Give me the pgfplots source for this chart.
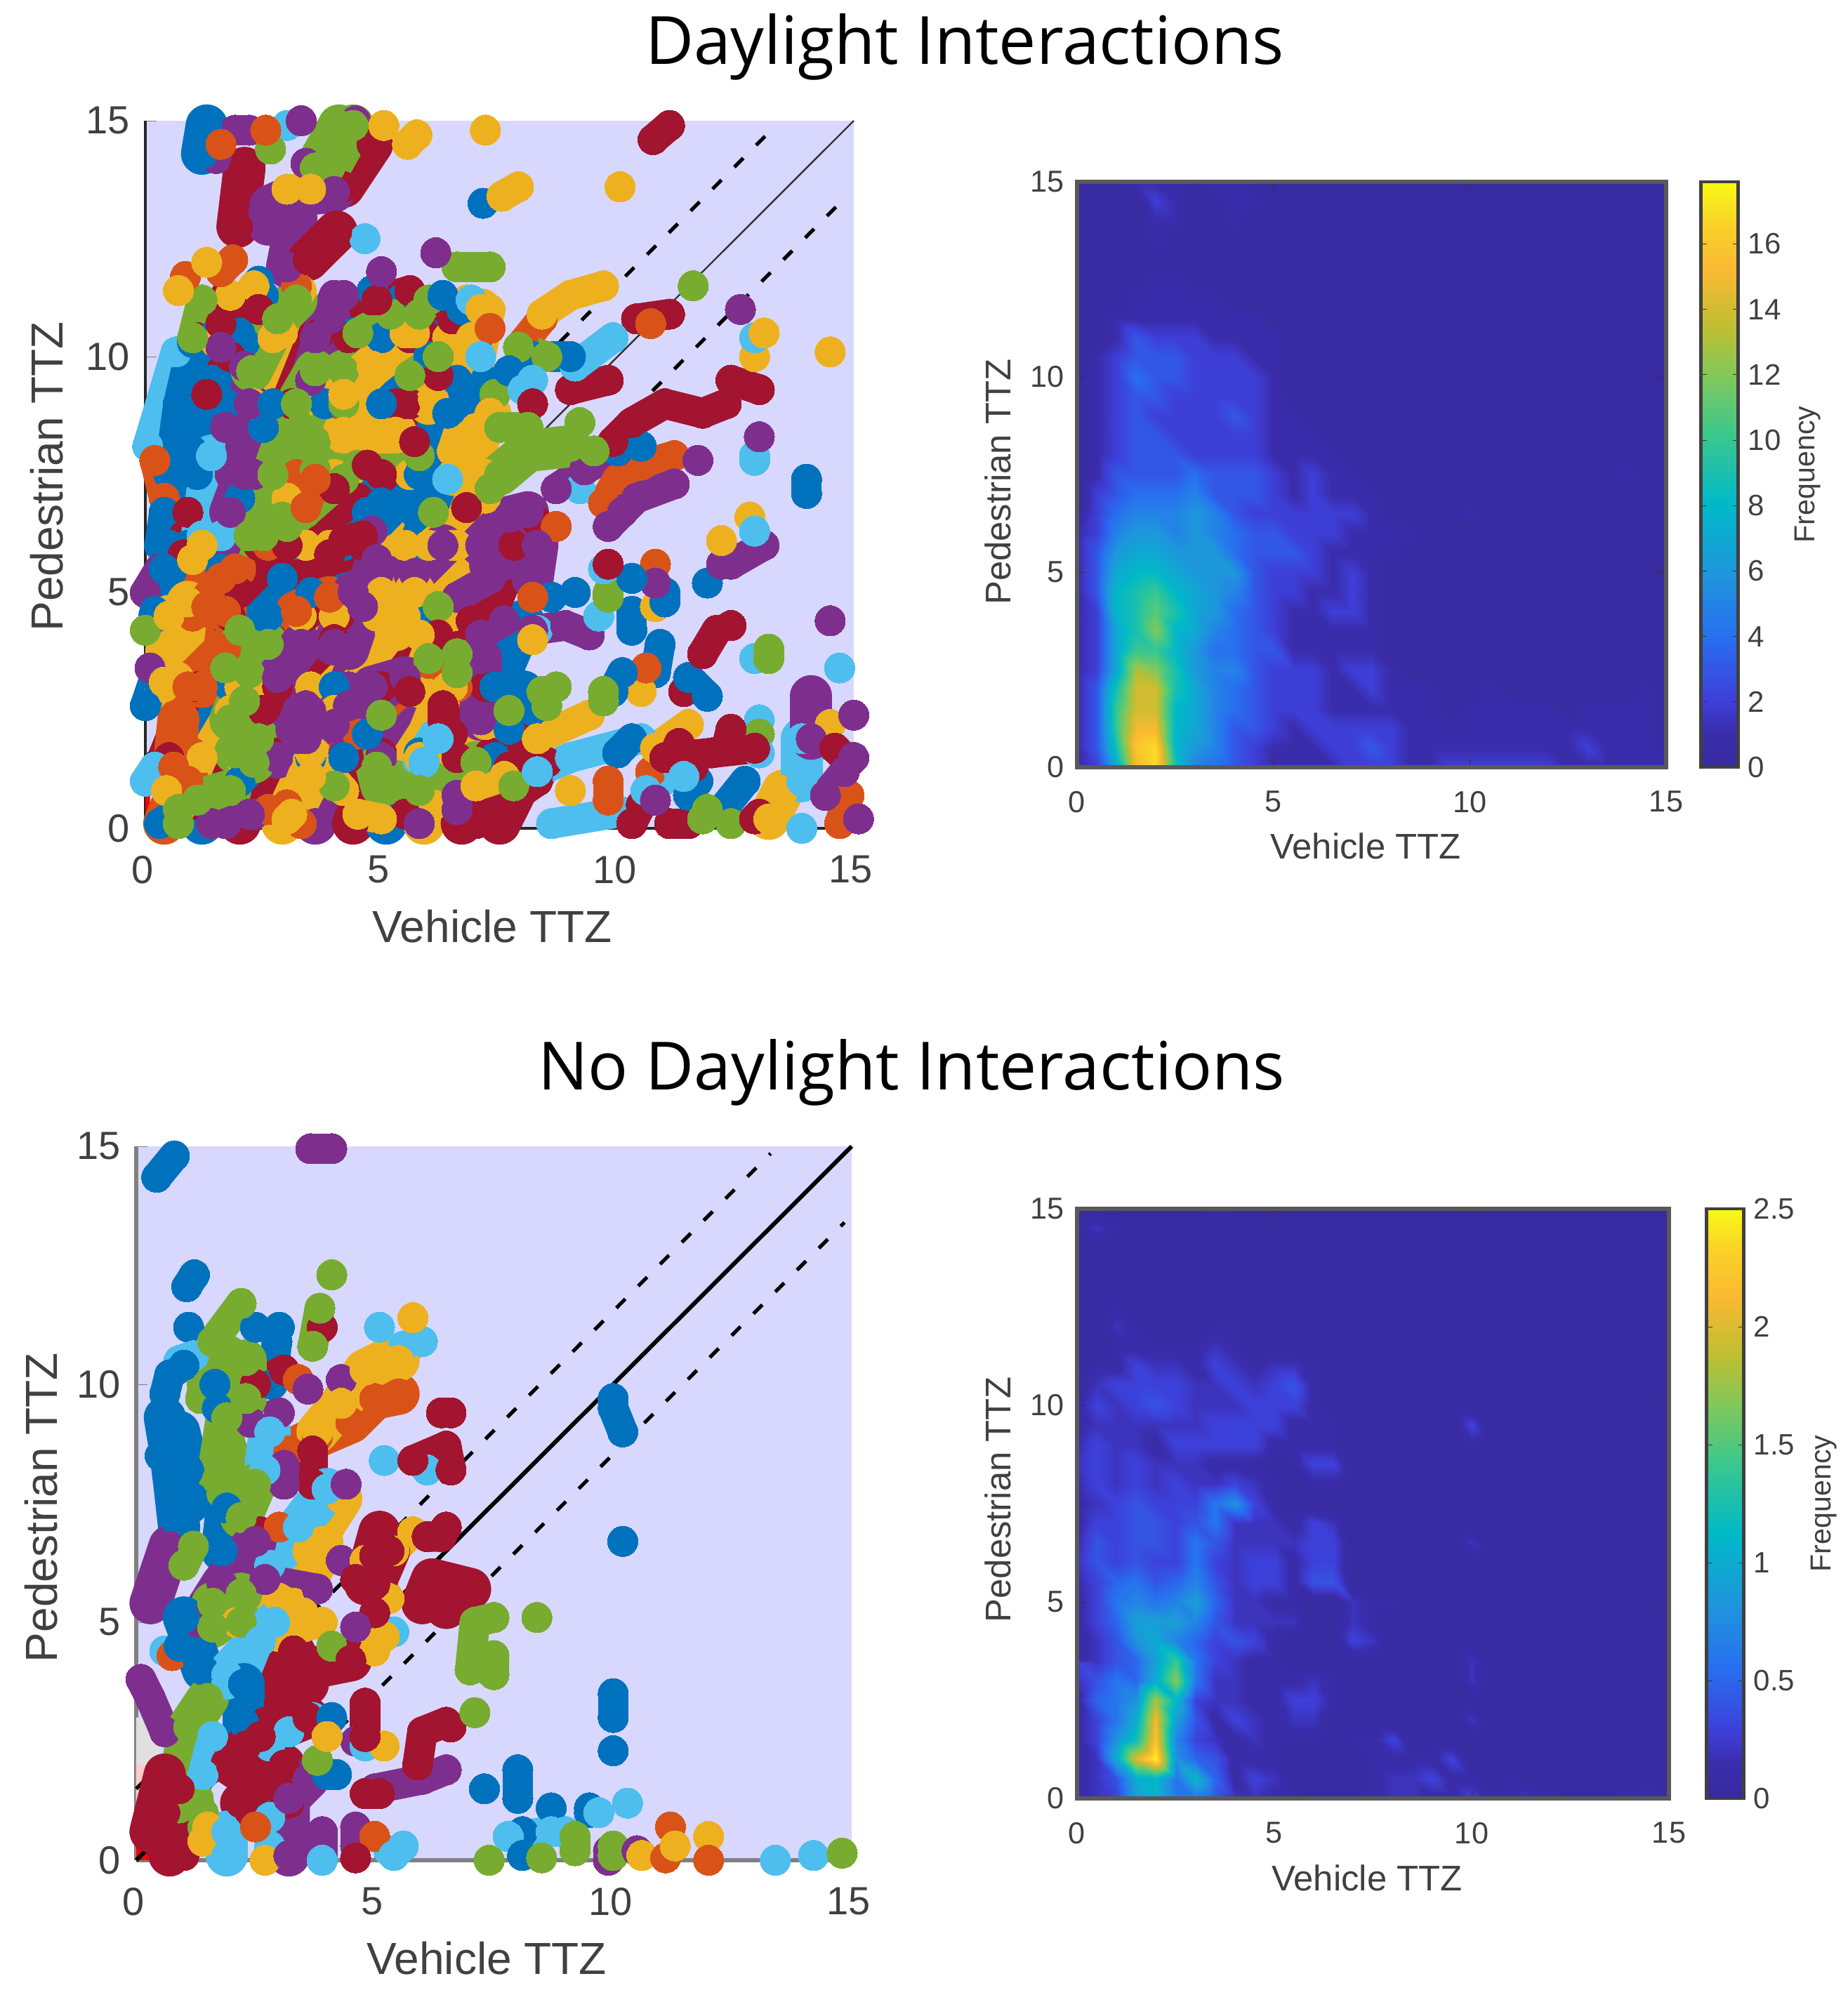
\documentclass[border=0pt]{standalone}
\usepackage{fontspec}
\setmainfont{Liberation Sans}
\newfontfamily\titlefont{Open Sans}
\usepackage{pgfplots}
\pgfplotsset{compat=1.18}
\definecolor{cb}{HTML}{0072BD}
\definecolor{co}{HTML}{D95319}
\definecolor{cy}{HTML}{EDB120}
\definecolor{cp}{HTML}{7E2F8E}
\definecolor{cg}{HTML}{77AC30}
\definecolor{cc}{HTML}{4DBEEE}
\definecolor{cr}{HTML}{A2142F}
\definecolor{lilac}{HTML}{D8D8FF}
\newcommand{\tr}[2]{\addplot[trk,#1] coordinates {#2};}
\newcommand{\fat}[2]{\addplot[trk,#1,line width=15pt] coordinates {#2};}
\pgfplotsset{
  trk/.style={line width=10.8pt,line cap=round,line join=round,mark=*,mark size=5.4pt,
    mark options={solid,line width=0pt}},
  parula/.style={colormap={parula}{rgb255(0pt)=(56,42,160) rgb255(6pt)=(58,45,172) rgb255(11pt)=(62,62,215)
    rgb255(22pt)=(40,110,240) rgb255(33pt)=(30,150,220) rgb255(45pt)=(0,185,200)
    rgb255(57pt)=(60,200,140) rgb255(67pt)=(130,200,90) rgb255(75pt)=(190,190,50)
    rgb255(85pt)=(250,185,50) rgb255(93pt)=(250,210,40) rgb255(100pt)=(248,250,20)}},
  scatterpanel/.style={
    scale only axis, clip=false,
    xmin=0, xmax=15, ymin=0, ymax=15,
    xtick={0,5,10,15}, ytick={0,5,10,15},
    axis lines=left, axis line style={-},
    axis background/.style={fill=lilac},
    tick align=inside, major tick length=4pt,
    /pgf/number format/assume math mode=true,
    ticklabel style={font=\fontsize{14}{14}\selectfont, text=black!75},
    xticklabel style={yshift=-6.3pt, xshift=-1pt},
    yticklabel style={xshift=-2pt},
    label style={font=\fontsize{16}{16}\selectfont, text=black!75, anchor=center},
    xlabel={Vehicle TTZ}, ylabel={Pedestrian TTZ},
  },
  heatpanel/.style={
    parula, scale only axis, axis on top,
    xmin=0, xmax=15, ymin=0, ymax=15,
    xtick={0,5,10,15}, ytick={0,5,10,15},
    tick align=inside, major tick length=3pt,
    axis line style={black!65, line width=1.4pt},
    tick style={black!80},
    /pgf/number format/assume math mode=true,
    ticklabel style={font=\fontsize{10.8}{11}\selectfont, text=black!75},
    xticklabel style={yshift=-5pt},
    yticklabel style={xshift=-1pt},
    label style={font=\fontsize{12.7}{13}\selectfont, text=black!75, anchor=center},
    xlabel={Vehicle TTZ}, ylabel={Pedestrian TTZ},
    colorbar,
  },
  heatbar/.style={
    width=13.25pt, xshift=#1,
    axis line style={black!75, line width=1.2pt},
    tick align=inside, major tick length=2pt,
    /pgf/number format/assume math mode=true,
    ticklabel style={font=\fontsize{10.5}{11}\selectfont, text=black!75},
    ylabel={Frequency},
  },
}
\begin{document}
\begin{tikzpicture}
\path[use as bounding box] (0,0) rectangle (658pt,710.5pt);
\node[font=\titlefont\fontsize{23.7}{24}\selectfont] at (343.5pt,693.8pt) {Daylight Interactions};
\node[font=\titlefont\fontsize{23.7}{24}\selectfont] at (324.5pt,328.5pt) {No Daylight Interactions};

% daylight scatter
\begin{axis}[scatterpanel, at={(51.75pt,415.5pt)}, anchor=south west, width=252.25pt, height=252pt,
  axis line style={black!85, line width=1pt},
  xlabel style={at={(axis description cs:0.49,-0.139)}},
  ylabel style={at={(axis description cs:-0.139,0.497)}}]
\addplot[fill=red, draw=none] coordinates {(0,0)(0.1,0)(0.1,0.7)(0,0.7)} \closedcycle;
\addplot[black!80, line width=0.6pt] coordinates {(0,0)(15,15)};
\addplot[black, line width=1.3pt, dash pattern=on 4.5pt off 6.5pt] coordinates {(0,1.5)(13.3,14.85)};
\addplot[black, line width=1.3pt, dash pattern=on 4.5pt off 6.5pt] coordinates {(1.5,0)(14.85,13.4)};
% cover of the dense area
\fat{co}{(0.4,0.1)(1,1.6)}
\fat{cb}{(1.2,0.1)(1.9,1.6)}
\fat{cr}{(2,0.1)(2.7,1.6)}
\fat{cy}{(2.9,0.1)(3.6,1.6)}
\fat{cp}{(3.6,0.1)(4.2,1.6)}
\fat{cr}{(4.4,0.1)(5,1.6)}
\fat{cb}{(5.1,0.1)(5.8,1.6)}
\fat{cy}{(5.9,0.1)(6.5,1.6)}
\fat{cr}{(6.7,0.1)(7.3,1.6)}
\fat{cr}{(7.5,0.1)(8.1,1.3)}
\fat{cr}{(0.5,1.5)(1.1,3)}
\fat{cb}{(1.2,1.5)(1.8,3)}
\fat{cy}{(2,1.5)(2.6,3)}
\fat{cp}{(2.8,1.5)(3.4,3)}
\fat{cb}{(3.5,1.5)(4.1,3)}
\fat{cr}{(4.3,1.5)(4.9,3)}
\fat{cp}{(5,1.5)(5.6,3)}
\fat{cy}{(5.8,1.5)(6.4,3)}
\fat{cr}{(6.6,1.5)(7.2,3)}
\fat{cb}{(7.4,1.5)(8,2.9)}
\fat{cy}{(0.4,3)(1,4.5)}
\fat{co}{(1.2,3)(1.8,4.5)}
\fat{cb}{(2,3)(2.6,4.5)}
\fat{cr}{(2.8,3)(3.4,4.5)}
\fat{cy}{(3.5,3)(4.1,4.5)}
\fat{cp}{(4.3,3)(4.9,4.5)}
\fat{cr}{(5,3)(5.6,4.5)}
\fat{cy}{(5.8,3)(6.4,4.5)}
\fat{co}{(6.6,3)(7.2,4.5)}
\fat{cb}{(7.4,3)(8,4.4)}
\fat{cb}{(0.3,4.5)(0.9,6)}
\fat{co}{(1,4.5)(1.6,6)}
\fat{cr}{(1.8,4.5)(2.4,6)}
\fat{cb}{(2.5,4.5)(3.1,6)}
\fat{cy}{(3.3,4.5)(3.9,6)}
\fat{cr}{(4.1,4.5)(4.7,6)}
\fat{cy}{(4.9,4.5)(5.5,6)}
\fat{cb}{(5.7,4.5)(6.3,6)}
\fat{cy}{(6.5,4.5)(7.1,6)}
\fat{cr}{(7.2,4.5)(7.8,6)}
\fat{cb}{(0.5,6)(1.1,7.5)}
\fat{cp}{(1.7,6)(2.3,7.5)}
\fat{co}{(2.6,6)(3.2,7.5)}
\fat{cy}{(3.4,6)(4,7.5)}
\fat{cb}{(4.2,6)(4.8,7.5)}
\fat{cy}{(5,6)(5.6,7.5)}
\fat{cb}{(5.8,6)(6.4,7.5)}
\fat{cy}{(6.6,6)(7.2,7.5)}
\fat{cb}{(0.6,7.5)(1.2,9)}
\fat{cp}{(1.8,7.5)(2.3,9)}
\fat{cy}{(2.7,7.5)(3.3,9)}
\fat{co}{(3.5,7.5)(4.1,9)}
\fat{cy}{(4.3,7.5)(4.9,9)}
\fat{cr}{(5,7.5)(5.6,9)}
\fat{cb}{(5.8,7.5)(6.4,9)}
\fat{cy}{(6.5,7.5)(7.1,9)}
\fat{cb}{(1,9)(1.5,10.5)}
\fat{cb}{(1.7,9)(2.1,10.3)}
\fat{cy}{(2.3,9)(2.9,10.5)}
\fat{cr}{(3.1,9)(3.7,10.5)}
\fat{cb}{(3.8,9)(4.4,10.5)}
\fat{cy}{(4.6,9)(5.2,10.5)}
\fat{cr}{(5.3,9)(5.9,10.5)}
\fat{cy}{(6,9)(6.6,10.5)}
\fat{cb}{(6.6,9)(7,10.2)}
\tr{cr}{(1.1,10.4)(1.7,11.3)}
\tr{cb}{(1.9,10.4)(2.5,11.3)}
\tr{cy}{(2.7,10.4)(3.3,11.4)}
\tr{cp}{(3.6,10.4)(4,11.3)}
\tr{cr}{(4.3,10.4)(4.8,11.2)}
\tr{cb}{(5,10.4)(5.4,11.2)}
\tr{cr}{(5.6,10.4)(6.1,11.2)}
\tr{cy}{(6.4,10.4)(6.8,11.2)}
% base layer
\tr{cc}{(0.05,8.1)(0.65,10.1)}
\tr{cb}{(0.5,7.5)(0.7,9)(1,10.3)}
\tr{cb}{(0.7,7.5)(1.1,9)(1.4,9.5)}
\tr{cb}{(1,8)(1.5,9.5)(1.5,10.5)}
\tr{co}{(0.2,7.8)(0.4,7)}
\tr{cb}{(0.3,6)(0.4,6.7)}
\tr{cr}{(0.8,5.8)(0.9,6.7)}
\tr{cp}{(0,5)(0.3,5.5)}
\tr{cb}{(0.2,4.6)(0.4,5.5)}
\tr{cg}{(0,4.2)}
\tr{cb}{(0,2.6)(0.2,3.2)}
\tr{cp}{(0.1,3.4)}
\tr{cc}{(0,1)(0.2,1.3)}
\tr{cb}{(0.3,0.1)(0.6,0.3)}
\tr{cb}{(2,1)(4,3)}
\tr{cy}{(2,3)(4,4.5)(5.5,6)}
\tr{cr}{(1,0.5)(2.5,2.5)(4,4)}
\tr{co}{(3,0.5)(4.5,2)(6,3.5)}
\tr{cy}{(4,2.5)(5.5,4.5)(6.5,6)}
\tr{cb}{(3.5,5)(5,6.5)(6.5,8)}
\tr{cy}{(5,5)(6,6)(7.2,7)}
\tr{cr}{(2,5)(3,6)(4.5,7)}
\tr{cy}{(0.8,0.5)(1.2,1.5)(1.8,2.5)}
\tr{cb}{(1.6,5.5)(2,7)(2.5,8.5)}
\tr{cy}{(3,7)(4.5,9)(5.5,10.5)}
\tr{cr}{(4.5,7)(5.5,9)(6.5,10.8)}
\tr{cb}{(5,9)(6,10)(6.7,11)}
\tr{cy}{(6.5,8)(7,9.5)(7.3,11)}
\tr{co}{(2.8,10.8)(3.2,11.5)}
\tr{cb}{(2,10.5)(2.4,11.6)}
\tr{cr}{(1.3,9.2)(1.8,10)(2.4,11)}
\tr{cy}{(1.5,10.3)(2.3,11.5)}
\tr{cy}{(6.1,0.5)(7.2,2.2)}
\tr{cr}{(7,0.1)(8.3,1)(8.5,1.4)}
\tr{cr}{(7.7,1.3)(7.9,2)}
\tr{cb}{(7.7,2.1)(8.2,2.5)}
\tr{cy}{(5.2,1)(6.5,3)}
\tr{cr}{(5.5,0.3)(6.5,2)}
\tr{cp}{(1.4,0.1)(2.3,0.3)}
\tr{co}{(2.6,0.4)(3.3,0.1)}
\tr{cy}{(3,0.2)(3.5,1.6)(4.2,0.8)}
\tr{cb}{(4.2,1.5)(4.7,2)}
% left side
\fat{cc}{(1.2,6.2)(1.4,7.9)}
\tr{cc}{(1.6,6.2)}
\fat{cy}{(0.4,3.1)(0.5,4.5)}
\fat{cy}{(0.7,3.2)(0.9,4.8)}
\fat{co}{(1.3,4.7)(1.9,5.5)}
\fat{co}{(1.7,4.6)(1.6,5.3)}
\fat{co}{(0.9,3)(1.7,3.8)}
\tr{cy}{(1,5.7)(1.2,6)}
\fat{co}{(0.7,2.3)(0.6,1.3)(0.9,1)}
\tr{cy}{(0.45,0.8)}
\tr{cg}{(0.7,0.1)(0.7,0.4)}
\fat{cg}{(1.1,0.6)(1.8,0.8)}
\tr{cp}{(1.7,0.1)(2.2,0.3)}
\tr{cg}{(1.7,3.4)(2,4.2)}
\fat{cg}{(2.1,2.7)(1.8,2.3)(2.2,3.3)(2.6,3.9)}
\fat{cg}{(1.9,1.6)(2.4,1.9)(2.3,1.4)}
\fat{cp}{(1.8,6.7)(2.1,7.5)(2.2,9)}
\tr{cp}{(1.7,8.5)(2.1,9.8)}
\tr{cr}{(1.6,10.7)(2.4,11)}
\tr{cp}{(1.6,10.2)}
\tr{cy}{(1.8,11.3)}
\tr{cg}{(1,10.4)(1.2,11.2)}
\tr{co}{(0.85,11.7)}
\tr{cy}{(0.7,11.4)}
\tr{co}{(1.6,11.8)(1.85,12.05)}
\tr{cy}{(1.3,12)}
\tr{cb}{(2.7,9)}
\fat{cp}{(3.5,9.5)(3.9,10.8)}
% green main streak
\fat{cg}{(2.2,6.2)(2.7,7.5)(3.2,9)(3.6,9.7)}
\fat{cg}{(2.5,6.2)(3.3,8.5)(4.2,9.7)}
\fat{cg}{(2.9,6.6)(3.6,8.2)(4.2,9)}
\fat{cg}{(2.25,9.7)(2.8,10.8)(3.2,11.2)}
\tr{cg}{(3,6.4)(3.4,6.7)(4.2,7.4)}
\tr{cg}{(3.6,7.6)(4.5,7.7)(5.8,7.9)}
\fat{cy}{(4.2,8.4)(5.3,8.4)}
\tr{cr}{(5.7,8.2)}
\tr{cr}{(4,7.2)(4.7,7.7)}
\tr{co}{(3.4,6.8)(3.6,7.4)}
\fat{cy}{(4.2,9.2)(4.8,9.8)(5.7,10.5)}
\tr{cg}{(4.5,10.5)(5.2,10.9)}
\tr{cb}{(4.8,11.4)}
\tr{cp}{(4.2,11.3)}
\tr{cr}{(4.9,11.2)(5.6,11.4)}
\tr{cp}{(5,11.8)}
\tr{cg}{(5.8,10.9)(6,11.2)}
\tr{cb}{(6.3,11.3)}
\tr{cc}{(6.9,11.2)}
\tr{cg}{(6.6,11.9)(7.3,11.9)}
\fat{cy}{(6.9,10.4)(7.1,11)}
\fat{cy}{(6.1,9.1)(6.7,10)}
\tr{cb}{(6.4,8.8)(6.8,9.1)}
\tr{cb}{(6.6,9.5)(7.2,9.5)}
\tr{cg}{(7.4,9.2)}
\fat{cy}{(6.9,7.6)(7.1,8.4)(7.3,8.8)}
\tr{cr}{(6.2,9.6)}
\tr{co}{(7.3,10.6)}
\tr{cc}{(7.1,10)}
\tr{cg}{(5.6,9.6)(6.2,10)}
\tr{cb}{(4.7,6.7)(5,6.9)}
\tr{cb}{(5.7,6.7)}
\tr{cg}{(6.1,6.7)}
\tr{cr}{(6.8,6.8)}
\tr{cc}{(6.4,7.4)}
\tr{cp}{(4.8,6.3)}
\tr{cr}{(4.2,6.1)(4.6,6.2)}
\fat{cr}{(3,5.4)(3.9,5.8)(4.6,6)}
\tr{cb}{(2.9,5.3)}
% right of the main mass
\fat{cp}{(5.7,5.4)(6.3,6)}
\tr{cp}{(6.6,4.9)(7.3,5.3)}
\fat{co}{(3.2,4.6)(3.9,4.9)}
\fat{cp}{(4.3,3.8)(4.6,4.7)(4.9,5.7)}
\fat{cp}{(4,3.9)(4.4,5)}
\fat{cy}{(5.3,4.2)(5.7,5)}
\tr{cg}{(6.2,4.7)}
\tr{cr}{(6.2,4.1)(6.9,4.4)}
\tr{cp}{(7.1,4.1)(7.6,4.4)}
\tr{cy}{(5.8,4.1)}
\fat{cp}{(7.1,2.3)(7.1,3.6)}
\tr{cg}{(6,3.6)(6.6,3.7)}
\tr{cg}{(6.6,3.3)}
\fat{cp}{(2.8,3.2)(3.3,3.9)}
\fat{cp}{(3.5,2.5)(3.2,2.1)(3.4,2.6)}
\tr{cp}{(4,2.2)(3.4,1.9)(3.2,1.9)}
\fat{cp}{(4.8,3)(5.5,3.2)(4.3,2.6)}
\tr{cr}{(5.6,2.9)}
\tr{cr}{(6.3,2.6)(6.3,2.3)}
\tr{cg}{(5,2.4)}
\fat{cg}{(4.9,1.3)(5,0.9)(5.3,1)}
\fat{cc}{(5.9,1.4)(6.2,1.9)}
\tr{cg}{(4,0.9)}
\fat{cy}{(3.1,0.3)(3.5,1.1)}
\tr{cy}{(4.5,0.3)(5,0.2)}
\fat{cg}{(5.8,0.8)(7,1.4)}
\tr{cp}{(6.6,0.4)(6.6,0.7)}
\tr{cy}{(7,0.9)(7.6,1.1)}
\tr{cp}{(5.8,0.1)}
\tr{cg}{(7.8,0.9)}
% lower right
\tr{cc}{(8.6,0.1)(10.1,0.35)}
\tr{cy}{(8.3,1.9)(9.4,2.4)}
\tr{cc}{(8.3,1.2)(9,1.5)(10.5,1.9)}
\tr{cb}{(10,1.6)(10.3,1.9)}
\tr{co}{(9.8,1)(9.8,0.6)}
\tr{cy}{(9,0.8)}
\tr{cr}{(10.3,0.1)(10.5,0.5)}
\tr{co}{(10.7,1.2)}
\tr{cr}{(11.1,0.1)(11.5,0.1)}
\tr{cc}{(10.6,0.8)(11.3,1.2)}
\tr{cp}{(10.8,0.6)}
\tr{cb}{(11.5,0.7)(11.7,1)}
\tr{cb}{(12.3,0.5)(12.7,1)}
\tr{cg}{(11.8,0.2)(11.9,0.4)}
\tr{cg}{(12.4,0.1)}
\tr{cr}{(12.9,0.2)(13,0.3)}
\fat{cy}{(13.2,0.2)(13.5,0.8)}
\tr{cc}{(13.9,0)}
\fat{cc}{(13.9,1)(13.9,1.9)}
\tr{cy}{(14.5,2.2)}
\fat{cp}{(14.1,1.9)(14.1,2.8)}
\tr{cr}{(14.6,1.7)(14.9,1.4)}
\tr{cp}{(15,2.4)}
\tr{cp}{(15,1.5)}
\tr{co}{(14.8,0.3)(14.7,0.1)(14.9,0.7)}
\tr{cp}{(14.4,0.7)(14.8,1.2)}
\tr{cp}{(15.1,0.2)}
\tr{cc}{(14.7,3.4)}
\tr{cc}{(13,2.3)}
\tr{cg}{(13,2)}
\tr{cc}{(13,1.6)}
\tr{cy}{(10.8,1.7)(11.5,2.2)}
\tr{cr}{(11,1.5)(12,1.6)(12.9,1.7)}
\tr{cr}{(11.3,1.8)(11.6,1.3)}
\tr{cr}{(12.3,1.7)(12.4,2.1)}
\tr{cc}{(11.4,1.1)}
\tr{cr}{(11.4,2.9)}
\tr{cb}{(11.5,3.2)(11.9,2.8)}
\tr{cb}{(10.8,3.3)(10.9,3.9)}
\tr{cy}{(10.5,2.9)}
\tr{co}{(10.6,3.4)}
\tr{cb}{(9.9,2.9)(10.1,3.3)}
\tr{cg}{(9.7,2.7)(9.7,2.9)}
\tr{cr}{(11.8,3.7)(12.1,4.2)}
\tr{cr}{(12.4,4.3)}
\tr{cc}{(12.9,3.6)}
\tr{cg}{(13.2,3.6)(13.2,3.8)}
\tr{cb}{(10.3,4.2)(10.3,4.6)}
\tr{cp}{(14.5,4.4)}
\tr{cc}{(8.3,4.2)}
\tr{cp}{(8.2,4.2)(8.9,4.3)(9.4,4.1)}
\tr{cy}{(10.8,4.7)}
\tr{cb}{(11,4.8)(11,5)}
\tr{co}{(10.8,5.6)}
\tr{cp}{(10.8,5.2)}
\tr{cb}{(11.9,5.2)}
\tr{cp}{(12.2,5.6)}
\tr{cp}{(12.4,5.6)(13.1,6)}
\tr{cy}{(12.2,6.1)}
\tr{cy}{(12.8,6.6)}
\tr{cc}{(12.9,6.3)}
\tr{cc}{(9.6,4.5)}
\tr{cg}{(9.8,4.9)(9.8,5)}
\tr{cc}{(9.7,5.5)}
\tr{cb}{(10.3,5.3)}
\tr{cb}{(9.1,5)}
\tr{cr}{(9.8,5.6)}
\tr{cc}{(9.2,7.2)}
\tr{cp}{(8.7,7.2)(9.3,7.6)(9.8,7.9)}
\tr{co}{(9.7,6.9)(10,7.4)(10.5,7.7)(11.2,7.9)}
\tr{cp}{(9.8,6.4)(10.1,6.7)(10.4,7)(11.2,7.3)}
\tr{cb}{(10,8)(10.5,8.1)}
\tr{cr}{(9.9,8.2)(10.3,8.6)(11,9)(11.8,8.8)(12.3,9)}
\tr{cp}{(11.7,7.8)}
\tr{cc}{(12.9,7.8)(12.9,7.9)}
\tr{cp}{(13,8.3)}
\tr{cr}{(12.4,9.5)(13,9.3)}
\tr{cy}{(12.9,10)}
\tr{cc}{(12.9,10.4)}
\tr{cy}{(13.1,10.5)}
\tr{cp}{(12.6,11)}
\tr{cy}{(14.5,10.1)}
\tr{cb}{(14,7.4)(14,7.1)}
\tr{cg}{(11.6,11.5)}
\tr{cr}{(10.4,10.8)(11.1,10.9)}
\tr{co}{(10.7,10.7)}
\tr{cr}{(9,9.3)(9.8,9.5)}
\tr{cc}{(9.1,9.8)(9.9,10.4)}
\tr{cg}{(9.2,8.6)}
\tr{cg}{(9.5,8)}
\tr{co}{(8,10.3)(8.4,10.8)}
\tr{cy}{(8.4,10.9)(9,11.3)(9.7,11.5)}
\tr{cb}{(8.2,10)(9,10)}
\tr{cg}{(7.9,10.2)(8.5,10)}
\tr{cb}{(7.7,9.7)}
\tr{cc}{(8,9.3)(8.2,9.5)}
\tr{cr}{(8.2,9)}
\tr{cg}{(7.5,8.5)(8.1,8.5)}
\fat{cg}{(7.5,7.5)(8.1,8)(9,8.1)}
\tr{cg}{(7.3,7.2)(7.8,7.7)}
\tr{cr}{(8.3,6.5)}
\tr{co}{(8.7,6.4)}
\fat{cp}{(7.1,6)(7.7,6.6)(8.1,6.7)}
\fat{cp}{(7.3,5.6)(8.3,6)(8.2,5.3)}
\tr{cb}{(8.6,4.9)}
\tr{co}{(8.2,4.9)}
\tr{cy}{(8.2,4)}
\tr{cg}{(8.5,2.6)(7.7,2.5)(8.4,2.9)}
\tr{cg}{(8.7,3)}
% top
\tr{cp}{(1.9,14.8)(2.2,14.8)}
\tr{cc}{(3,14.9)}
\tr{cp}{(1.5,14.2)}
\fat{cb}{(1.2,14.3)(1.3,14.9)}
\tr{co}{(1.6,14.5)}
\tr{cg}{(2.65,14.4)}
\tr{co}{(2.55,14.8)}
\tr{cp}{(3.3,15)}
\tr{cp}{(4.45,15)}
\tr{cp}{(3.4,14.1)}
\fat{cr}{(4.8,14.5)(4.2,13.6)}
\fat{cg}{(3.6,14)(4.1,14.9)}
\fat{cg}{(3.9,14)(4.4,14.9)}
\tr{cy}{(5.05,14.9)}
\tr{cy}{(5.55,14.5)(5.75,14.7)}
\tr{cy}{(7.2,14.8)}
\tr{cr}{(10.75,14.6)(11.1,14.9)}
\tr{cb}{(7.15,13.25)}
\tr{cy}{(7.55,13.4)(7.9,13.6)}
\tr{cy}{(10.05,13.6)}
\fat{cr}{(1.95,12.75)(2.1,14)}
\fat{cp}{(2.6,12.8)(2.65,13.2)(3.1,13.4)(4,13.5)}
\tr{cy}{(3,13.55)(3.5,13.55)}
\fat{cp}{(3,11.9)(3.2,12.9)}
\tr{cc}{(4.65,12.5)}
\fat{cr}{(3.45,12.05)(4.05,12.65)}
\tr{cp}{(6.15,12.2)}
\end{axis}

% daylight density
\begin{axis}[heatpanel, at={(383.5pt,437.25pt)}, anchor=south west, width=209.75pt, height=208.5pt,
  point meta min=0, point meta max=17.9,
  xlabel style={at={(axis description cs:0.49,-0.135)}},
  ylabel style={at={(axis description cs:-0.134,0.487)}},
  colorbar style={heatbar=-5.5pt, ytick={0,2,...,16},
    ylabel style={font=\fontsize{10.3}{11}\selectfont, text=black!75, anchor=center,
      at={(axis description cs:2.87,0.5)}}}]
\addplot[surf, shader=interp, mesh/cols=31, mesh/check=false, point meta=explicit]
 table[row sep=\\, meta=v, x expr={mod(\coordindex,31)*0.5}, y expr={floor(\coordindex/31)*0.5}] {
v\\
1\\2\\7\\15\\17\\9\\5\\4\\3\\2\\1\\1\\1\\1\\2\\2\\2\\1\\1\\2\\2\\2\\2\\2\\2\\1\\1\\1\\1\\1\\1\\
1\\3\\9\\16\\17\\8\\6\\5\\3\\2\\1\\1\\1\\2\\2\\3\\2\\1\\1\\1\\1\\1\\1\\1\\1\\1\\2\\1\\1\\1\\0\\
1\\3\\10\\15\\15\\8\\7\\5\\3\\3\\2\\1\\2\\2\\2\\2\\2\\1\\1\\1\\1\\1\\1\\1\\1\\1\\1\\1\\1\\1\\0\\
1\\3\\10\\14\\14\\8\\7\\5\\4\\3\\2\\2\\2\\1\\1\\1\\1\\1\\1\\0\\1\\1\\1\\1\\1\\0\\1\\1\\1\\1\\0\\
1\\3\\9\\14\\14\\9\\7\\5\\4\\3\\2\\2\\2\\1\\1\\2\\1\\1\\1\\0\\0\\1\\0\\0\\0\\0\\0\\0\\0\\1\\0\\
1\\2\\7\\13\\12\\9\\6\\5\\5\\3\\2\\2\\2\\1\\2\\2\\1\\0\\0\\0\\0\\0\\0\\0\\0\\0\\0\\0\\0\\0\\0\\
1\\2\\7\\10\\10\\8\\6\\4\\4\\3\\3\\1\\1\\1\\1\\1\\0\\0\\0\\0\\0\\0\\0\\0\\0\\0\\0\\0\\0\\0\\0\\
1\\2\\7\\9\\12\\8\\7\\5\\4\\3\\2\\1\\1\\1\\1\\1\\0\\0\\0\\0\\0\\0\\0\\0\\0\\0\\0\\0\\0\\0\\0\\
1\\2\\8\\9\\11\\9\\7\\6\\4\\3\\2\\1\\1\\2\\2\\1\\0\\0\\0\\0\\0\\0\\0\\0\\0\\0\\0\\0\\0\\0\\0\\
1\\3\\8\\9\\10\\8\\7\\6\\5\\3\\2\\2\\1\\1\\2\\1\\0\\0\\0\\0\\0\\0\\0\\0\\0\\0\\0\\0\\0\\0\\0\\
1\\3\\7\\8\\8\\7\\6\\6\\6\\3\\2\\2\\2\\1\\2\\1\\0\\0\\0\\0\\0\\0\\0\\0\\0\\0\\0\\0\\0\\0\\0\\
1\\3\\6\\7\\7\\6\\6\\6\\4\\3\\3\\3\\2\\1\\1\\1\\1\\0\\0\\0\\0\\0\\0\\0\\0\\0\\0\\0\\0\\0\\0\\
1\\2\\5\\6\\6\\5\\6\\5\\4\\3\\3\\2\\2\\2\\1\\1\\1\\1\\0\\0\\0\\0\\0\\0\\0\\0\\0\\0\\0\\0\\0\\
1\\2\\4\\5\\5\\5\\6\\5\\3\\2\\2\\2\\2\\2\\2\\1\\0\\0\\0\\0\\1\\0\\0\\0\\0\\0\\0\\0\\0\\0\\0\\
0\\2\\3\\4\\4\\4\\5\\3\\3\\3\\2\\1\\2\\1\\1\\1\\0\\0\\0\\0\\0\\0\\0\\0\\0\\0\\0\\0\\0\\0\\0\\
0\\1\\3\\3\\3\\3\\4\\3\\3\\3\\2\\1\\2\\1\\1\\0\\0\\0\\0\\0\\0\\0\\0\\0\\0\\0\\0\\0\\1\\0\\0\\
0\\1\\2\\3\\3\\3\\2\\2\\2\\2\\1\\1\\1\\1\\0\\0\\0\\0\\0\\0\\0\\0\\0\\0\\0\\0\\0\\0\\0\\0\\0\\
0\\1\\2\\3\\3\\2\\2\\2\\2\\2\\1\\1\\1\\0\\0\\0\\0\\0\\0\\0\\0\\0\\0\\0\\0\\0\\0\\0\\0\\0\\0\\
0\\1\\2\\3\\2\\2\\2\\2\\3\\2\\1\\1\\0\\0\\0\\0\\0\\0\\0\\0\\0\\0\\0\\0\\0\\0\\0\\0\\0\\0\\0\\
0\\1\\2\\3\\3\\2\\2\\2\\2\\2\\1\\0\\0\\0\\0\\0\\0\\0\\0\\0\\0\\0\\0\\0\\0\\0\\0\\0\\0\\0\\0\\
0\\1\\2\\4\\3\\3\\2\\2\\2\\2\\1\\0\\0\\0\\0\\0\\0\\0\\0\\0\\0\\0\\0\\0\\0\\0\\0\\0\\0\\0\\0\\
0\\1\\2\\3\\3\\3\\2\\2\\2\\1\\1\\0\\0\\0\\0\\0\\0\\0\\0\\0\\0\\0\\0\\0\\0\\0\\0\\0\\0\\0\\0\\
0\\0\\1\\3\\2\\2\\2\\1\\1\\1\\1\\0\\0\\0\\0\\0\\0\\0\\0\\0\\0\\0\\0\\0\\0\\0\\0\\0\\0\\0\\0\\
0\\0\\1\\1\\1\\1\\1\\1\\1\\1\\0\\0\\0\\0\\0\\0\\0\\0\\0\\0\\0\\0\\0\\0\\0\\0\\0\\0\\0\\0\\0\\
0\\0\\0\\1\\1\\1\\1\\1\\0\\0\\0\\0\\0\\0\\0\\0\\0\\0\\0\\0\\0\\0\\0\\0\\0\\0\\0\\0\\0\\0\\0\\
0\\0\\0\\0\\1\\1\\0\\0\\0\\0\\0\\0\\0\\0\\0\\0\\0\\0\\0\\0\\0\\0\\0\\0\\0\\0\\0\\0\\0\\0\\0\\
0\\0\\0\\0\\0\\0\\0\\0\\0\\0\\0\\0\\0\\0\\0\\0\\0\\0\\0\\0\\0\\0\\0\\0\\0\\0\\0\\0\\0\\0\\0\\
0\\0\\0\\0\\1\\0\\0\\0\\0\\0\\0\\0\\0\\0\\0\\0\\0\\0\\0\\0\\0\\0\\0\\0\\0\\0\\0\\0\\0\\0\\0\\
0\\0\\0\\0\\1\\1\\0\\0\\1\\0\\0\\0\\0\\0\\0\\0\\0\\0\\0\\0\\0\\0\\0\\0\\0\\0\\0\\0\\0\\0\\0\\
0\\0\\0\\0\\2\\1\\0\\0\\1\\1\\0\\0\\0\\0\\0\\0\\0\\0\\0\\0\\0\\0\\0\\0\\0\\0\\0\\0\\0\\0\\0\\
0\\0\\0\\1\\1\\1\\0\\1\\1\\0\\0\\0\\0\\0\\0\\0\\0\\0\\0\\0\\0\\0\\0\\0\\0\\0\\0\\0\\0\\0\\0\\
};
\end{axis}

% no daylight scatter
\begin{axis}[scatterpanel, at={(48.5pt,48pt)}, anchor=south west, width=254.75pt, height=254.25pt,
  axis line style={black!50, line width=1.3pt},
  xlabel style={at={(axis description cs:0.49,-0.137)}},
  ylabel style={at={(axis description cs:-0.133,0.494)}}]
\addplot[fill=black!12, draw=none] coordinates {(0,2)(0.5,2)(0.5,3)(0,3)} \closedcycle;
\addplot[fill=red!20, draw=none] coordinates {(0,1)(0.5,1)(0.5,2)(0,2)} \closedcycle;
\addplot[fill=red, draw=none] coordinates {(0,0)(0.4,0)(0.4,1)(0,1)} \closedcycle;
\addplot[black, line width=1.5pt] coordinates {(0,0)(15,15)};
\addplot[black, line width=1.3pt, dash pattern=on 4.5pt off 6.5pt] coordinates {(0,1.5)(13.3,14.85)};
\addplot[black, line width=1.3pt, dash pattern=on 4.5pt off 6.5pt] coordinates {(1.5,0)(14.85,13.4)};
\tr{cb}{(0.43,14.35)(0.8,14.8)}
\tr{cp}{(3.66,14.95)(4.1,14.95)}
\tr{cb}{(1.06,12.05)(1.22,12.3)}
\tr{cb}{(1.1,11.2)}
\tr{cb}{(2.5,11.2)}
\tr{cb}{(3,11.2)}
\tr{cb}{(2.85,10)(2.95,10.9)}
\tr{cc}{(0.9,10.5)(1.2,10.6)}
\tr{cb}{(0.6,9.8)(0.7,10.2)(1,10.4)}
\tr{cg}{(2.2,11.7)(1.6,10.9)(1.35,9.7)}
\fat{cg}{(1.5,10)(1.9,10.6)}
\tr{cb}{(1.7,9.5)(1.65,10)}
\tr{cp}{(2.4,9.2)(3,9.4)}
\tr{cr}{(2.5,10)(3.1,10.3)}
\fat{cg}{(2.3,9.7)(2.3,10.5)}
\tr{cr}{(3.9,11.2)}
\tr{cg}{(3.7,10.8)(3.85,11.6)}
\tr{cg}{(4.1,12.3)}
\tr{co}{(3.4,10.1)}
\tr{cp}{(3.6,9.9)}
\tr{cp}{(4.3,10.1)}
\tr{cc}{(5.6,10.8)(6,10.9)}
\tr{cc}{(5.1,11.2)}
\tr{cy}{(5.8,11.4)}
\fat{co}{(3.2,8.6)(3.8,8.9)(4.5,9.2)(5,9.7)(5.5,9.8)}
\fat{cy}{(3.8,9)(4.3,9.6)(4.8,10.3)(5.2,10.5)(5.5,10.5)}
\fat{cb}{(0.6,9.3)(0.7,8.7)(0.8,7.9)(0.9,7)}
\fat{cb}{(0.9,9)(1.1,8.2)(1.1,7.5)}
\tr{cb}{(0.5,8.5)(1,8)(1.2,7.6)}
\tr{cr}{(3.7,7.9)(3.7,8.6)}
\tr{cp}{(3.1,7.9)(3.1,8.3)}
\fat{cg}{(1.7,8)(1.9,9.3)}
\fat{cg}{(1.8,7.7)(1.9,8.6)}
\fat{cc}{(2.7,8.2)(2.8,9)}
\tr{cr}{(2.6,6.9)}
\fat{cb}{(1.8,6.5)(1.9,7.4)}
\fat{cg}{(2.2,7.2)(2.5,7.9)}
\tr{co}{(3,7)}
\fat{cy}{(3.6,6.5)(4.3,7.6)}
\fat{cy}{(3.3,5.4)(3.9,6.5)}
\fat{cy}{(2.1,5)(3,5.5)(3.9,6.7)}
\tr{cp}{(4.3,6.3)}
\fat{cc}{(2.8,6.2)(3.4,7)(4,7.8)}
\tr{cp}{(4.4,7.9)}
\fat{cp}{(0.3,5.4)(0.7,6.6)}
\fat{cp}{(1.3,5)(1.8,5.8)(2.5,6.7)}
\tr{cg}{(1,6.2)(1.2,6.6)}
\tr{cp}{(2.7,5.9)(3.8,5.7)}
\fat{cg}{(1.6,4.9)(2.2,5.6)}
\fat{cg}{(1.6,5.4)(2.2,5)}
\tr{cy}{(3.5,4.9)(3.9,5)}
\tr{cy}{(3,4.7)(3.5,5.2)}
\tr{cc}{(0.6,4.4)}
\tr{co}{(0.75,4.3)}
\fat{cb}{(1,5.1)(1.4,4)}
\tr{cb}{(0.9,4.5)(1.3,4.2)}
\tr{cy}{(5.4,6.5)(5.8,6.9)}
\tr{cy}{(4.8,6.3)(5.3,5.5)}
\fat{cr}{(4.8,5.8)(5.1,6.9)}
\fat{cr}{(5,5.8)(5.3,6.5)}
\tr{cr}{(4.6,5.9)(5,6.4)}
\tr{cr}{(6.1,6.8)(6.4,6.8)(6.5,7)}
\fat{cr}{(6,5.4)(6.2,5.9)(7,5.7)(6.5,5.3)}
\tr{cy}{(5,4.4)}
\tr{cc}{(5.4,4.8)}
\tr{cy}{(5.2,4.7)}
\tr{cr}{(5,5.2)}
\tr{cp}{(4.6,4.9)}
\tr{cg}{(4.1,4.5)}
\fat{cc}{(1.9,3.7)(2.6,4.6)}
\fat{cc}{(1.9,3.9)(2.9,5)}
\fat{cr}{(2.7,2.9)(3.3,4.4)(3.5,4)(4.5,4.2)}
\fat{cr}{(3,3.3)(3.6,3.7)}
\fat{cb}{(2.25,2.9)(2.25,3.7)}
\tr{cc}{(2.8,2.4)(3.2,2.7)(3.7,3)}
\tr{cp}{(0.1,3.8)(0.3,3.4)(0.6,2.7)}
\fat{cg}{(0.9,1.5)(1.1,2.8)(1.5,3.4)}
\tr{cg}{(0.9,1.1)(1.4,1)}
\tr{cg}{(1.3,1.3)(1.4,0.7)}
\tr{cc}{(1.4,1.8)(1.6,2.6)}
\fat{cr}{(0.3,0.6)(0.6,1.8)(0.7,0.1)}
\tr{cr}{(0.5,0.3)(1,0.1)}
\tr{cr}{(0.6,1)(0.9,1.5)}
\fat{cr}{(2,2)(2.6,1.6)(3,1.5)}
\fat{cr}{(2.2,1.2)(3.2,1.2)(3.1,2)(2.3,2.4)(2.6,2.6)(3.6,3)}
\tr{cr}{(2.2,1.2)(2.4,0.8)}
\tr{cy}{(1.4,0.4)(1.5,0.7)}
\fat{cc}{(1.9,0.1)(1.9,0.6)}
\tr{cc}{(2.8,0.3)(2.8,0.9)}
\tr{co}{(2.5,0.7)}
\tr{cy}{(2.7,0)}
\fat{cp}{(3.2,0.1)(3.2,1.3)(3.6,1.7)}
\tr{cp}{(3.9,0.1)(3.9,0.6)}
\tr{cc}{(3.9,0)}
\tr{cb}{(4,1.8)(4.2,1.8)}
\tr{cg}{(3.8,2.1)}
\tr{cb}{(4.1,3)}
\tr{cc}{(5.3,0.2)}
\tr{cp}{(4.6,0.3)(4.6,0.7)}
\tr{co}{(5,0.5)}
\tr{cc}{(5.4,0.1)(5.6,0.3)}
\tr{cr}{(4.6,0.05)}
\tr{cp}{(4.6,2.5)}
\tr{cy}{(4,2.6)}
\tr{cc}{(4.8,2.4)}
\tr{cy}{(5.2,2.4)}
\tr{cr}{(4.8,2.6)(4.8,3.3)}
\tr{cp}{(5,1.5)(6,1.7)(6.5,1.9)}
\tr{cr}{(4.8,1.4)(5.1,1.4)}
\tr{cr}{(5.9,2)(6,2.7)(6.5,2.9)(6.6,2.8)}
\tr{cc}{(5.2,8.4)}
\tr{cc}{(6.1,8.2)}
\tr{cr}{(6.4,9.4)(6.6,9.4)}
\tr{cr}{(5.8,8.4)(6.5,8.7)(6.6,8.2)}
\tr{cb}{(10,9.7)(10,9.5)(10.2,9)}
\tr{cb}{(10.2,6.7)}
\tr{cb}{(10,3.5)(10,3)}
\tr{cb}{(10,2.3)}
\tr{cg}{(7,4)(7.1,5)(7.5,5.1)}
\tr{cg}{(7.1,4.2)(7.5,3.9)(7.5,4.3)}
\tr{cg}{(8.4,5.1)}
\tr{cg}{(7.1,3.1)}
\tr{cb}{(7.3,1.5)}
\tr{cb}{(8,1.3)(8,1.9)}
\tr{cb}{(8.7,1.1)}
\tr{cb}{(9.5,1)(9.5,1.1)}
\tr{cb}{(8.1,0.6)}
\tr{cc}{(7.8,0.5)(8.7,0.6)(9,0.6)}
\tr{cc}{(9.7,1)}
\tr{cc}{(10.3,1.2)}
\tr{cg}{(7.4,0)}
\tr{cb}{(8.1,0.1)}
\tr{cg}{(8.5,0.05)}
\tr{cg}{(9.2,0.2)(9.2,0.5)}
\tr{cp}{(9.9,0)(9.9,0.2)}
\tr{cg}{(10,0.1)(10,0.3)}
\tr{cp}{(10.5,0.2)}
\tr{cy}{(10.6,0.1)}
\tr{co}{(11.2,0.7)}
\tr{co}{(11.1,0.05)}
\tr{cy}{(11.3,0.3)}
\tr{cy}{(12,0.5)}
\tr{co}{(12,0)}
\tr{cc}{(13.4,0)}
\tr{cc}{(14.2,0.1)}
\tr{cg}{(14.8,0.15)}
\end{axis}

% no daylight density
\begin{axis}[heatpanel, at={(383.5pt,70pt)}, anchor=south west, width=210.75pt, height=210pt,
  point meta min=0, point meta max=2.5,
  xlabel style={at={(axis description cs:0.49,-0.135)}},
  ylabel style={at={(axis description cs:-0.134,0.507)}},
  colorbar style={heatbar=-4.5pt, ytick={0,0.5,1,1.5,2,2.5}, yticklabels={0,0.5,1,1.5,2,2.5},
    ylabel style={font=\fontsize{10.3}{11}\selectfont, text=black!75, anchor=center,
      at={(axis description cs:3.15,0.5)}}}]
\addplot[surf, shader=interp, mesh/cols=31, mesh/check=false, point meta=explicit]
 table[row sep=\\, meta expr=\thisrow{v}/10, x expr={mod(\coordindex,31)*0.5}, y expr={floor(\coordindex/31)*0.5}] {
v\\
1\\2\\3\\9\\11\\6\\6\\4\\2\\2\\1\\1\\0\\0\\0\\1\\2\\2\\1\\1\\3\\1\\1\\2\\1\\0\\0\\0\\1\\2\\1\\
1\\2\\4\\10\\11\\6\\11\\5\\1\\3\\2\\0\\0\\0\\0\\1\\2\\2\\3\\1\\1\\0\\1\\0\\0\\0\\0\\0\\0\\0\\0\\
1\\2\\10\\20\\25\\8\\5\\4\\1\\1\\1\\0\\0\\0\\0\\1\\1\\1\\1\\3\\0\\0\\0\\0\\0\\0\\0\\0\\0\\0\\0\\
1\\3\\8\\12\\22\\7\\3\\2\\1\\2\\1\\1\\1\\0\\1\\1\\3\\0\\0\\0\\0\\0\\0\\0\\0\\0\\0\\0\\0\\0\\0\\
1\\3\\6\\10\\21\\9\\4\\1\\3\\2\\1\\2\\2\\0\\0\\0\\0\\0\\0\\0\\2\\0\\0\\0\\0\\0\\0\\0\\0\\0\\0\\
1\\5\\6\\8\\18\\11\\3\\2\\2\\1\\1\\3\\3\\1\\0\\0\\0\\0\\0\\0\\0\\0\\0\\0\\0\\0\\0\\0\\0\\0\\0\\
1\\4\\6\\5\\10\\17\\6\\2\\2\\1\\1\\1\\2\\1\\0\\0\\0\\0\\0\\0\\2\\0\\0\\0\\0\\0\\0\\0\\0\\0\\0\\
3\\2\\4\\5\\9\\14\\6\\3\\2\\1\\1\\0\\0\\0\\0\\0\\0\\0\\0\\0\\2\\0\\0\\0\\0\\0\\0\\0\\0\\0\\0\\
1\\2\\4\\8\\10\\7\\5\\3\\4\\3\\1\\0\\0\\0\\3\\2\\0\\0\\0\\0\\0\\0\\0\\0\\0\\0\\0\\0\\0\\0\\0\\
1\\3\\5\\9\\9\\9\\7\\4\\2\\2\\2\\2\\0\\0\\2\\1\\0\\0\\0\\0\\0\\0\\0\\0\\0\\0\\0\\0\\0\\0\\0\\
1\\3\\6\\7\\6\\7\\9\\5\\2\\2\\1\\1\\0\\0\\2\\1\\1\\0\\0\\0\\0\\0\\0\\0\\0\\0\\0\\0\\0\\0\\0\\
1\\3\\5\\6\\4\\5\\7\\4\\2\\3\\3\\1\\4\\4\\0\\0\\0\\0\\0\\0\\0\\0\\0\\0\\0\\0\\0\\0\\0\\0\\0\\
2\\4\\3\\4\\3\\3\\6\\3\\2\\3\\3\\1\\3\\3\\0\\0\\0\\0\\0\\0\\0\\0\\0\\0\\0\\0\\0\\0\\0\\0\\0\\
2\\4\\3\\4\\4\\3\\6\\4\\2\\2\\2\\2\\3\\3\\0\\0\\0\\0\\0\\0\\2\\0\\0\\0\\0\\0\\0\\0\\0\\0\\0\\
1\\3\\3\\4\\4\\3\\4\\6\\2\\2\\2\\1\\3\\2\\0\\0\\0\\0\\0\\0\\0\\0\\0\\0\\0\\0\\0\\0\\0\\0\\0\\
1\\2\\3\\4\\3\\3\\3\\6\\8\\3\\1\\0\\0\\0\\0\\0\\0\\0\\0\\0\\0\\0\\0\\0\\0\\0\\0\\0\\0\\0\\0\\
1\\3\\2\\3\\2\\3\\2\\2\\3\\2\\1\\0\\1\\1\\0\\0\\0\\0\\0\\0\\0\\0\\0\\0\\0\\0\\0\\0\\0\\0\\0\\
2\\3\\2\\3\\2\\2\\2\\1\\1\\1\\0\\1\\3\\3\\0\\0\\0\\0\\0\\0\\0\\0\\0\\0\\0\\0\\0\\0\\0\\0\\0\\
2\\3\\2\\2\\1\\3\\3\\3\\3\\3\\1\\1\\1\\1\\0\\0\\0\\0\\0\\0\\1\\0\\0\\0\\0\\0\\0\\0\\0\\0\\0\\
1\\2\\2\\2\\2\\2\\2\\3\\3\\3\\3\\1\\1\\1\\0\\0\\0\\0\\0\\0\\3\\0\\0\\0\\0\\0\\0\\0\\0\\0\\0\\
1\\3\\2\\3\\4\\3\\2\\2\\2\\3\\3\\3\\1\\0\\0\\0\\0\\0\\0\\0\\0\\0\\0\\0\\0\\0\\0\\0\\0\\0\\0\\
1\\2\\3\\3\\3\\3\\2\\2\\3\\2\\3\\4\\1\\0\\0\\0\\0\\0\\0\\0\\0\\0\\0\\0\\0\\0\\0\\0\\0\\0\\0\\
0\\1\\1\\3\\2\\2\\1\\3\\2\\1\\2\\2\\1\\0\\0\\0\\0\\0\\0\\0\\0\\0\\0\\0\\0\\0\\0\\0\\0\\0\\0\\
0\\0\\1\\1\\1\\1\\1\\2\\1\\0\\0\\0\\0\\0\\0\\0\\0\\0\\0\\0\\0\\0\\0\\0\\0\\0\\0\\0\\0\\0\\0\\
0\\0\\2\\1\\0\\0\\0\\1\\1\\0\\0\\0\\0\\0\\0\\0\\0\\0\\0\\0\\0\\0\\0\\0\\0\\0\\0\\0\\0\\0\\0\\
0\\0\\1\\0\\0\\0\\0\\0\\0\\0\\0\\0\\0\\0\\0\\0\\0\\0\\0\\0\\0\\0\\0\\0\\0\\0\\0\\0\\0\\0\\0\\
0\\0\\0\\0\\0\\0\\0\\0\\0\\0\\0\\0\\0\\0\\0\\0\\0\\0\\0\\0\\0\\0\\0\\0\\0\\0\\0\\0\\0\\0\\0\\
0\\0\\0\\0\\0\\0\\0\\0\\0\\0\\0\\0\\0\\0\\0\\0\\0\\0\\0\\0\\0\\0\\0\\0\\0\\0\\0\\0\\0\\0\\0\\
0\\0\\0\\0\\0\\0\\0\\0\\0\\0\\0\\0\\0\\0\\0\\0\\0\\0\\0\\0\\0\\0\\0\\0\\0\\0\\0\\0\\0\\0\\0\\
1\\2\\1\\0\\0\\0\\0\\0\\0\\0\\0\\0\\0\\0\\0\\0\\0\\0\\0\\0\\0\\0\\0\\0\\0\\0\\0\\0\\0\\0\\0\\
0\\0\\0\\0\\0\\0\\0\\1\\0\\0\\0\\0\\0\\0\\0\\0\\0\\0\\0\\0\\0\\0\\0\\0\\0\\0\\0\\0\\0\\0\\0\\
};
\end{axis}
\end{tikzpicture}
\end{document}
